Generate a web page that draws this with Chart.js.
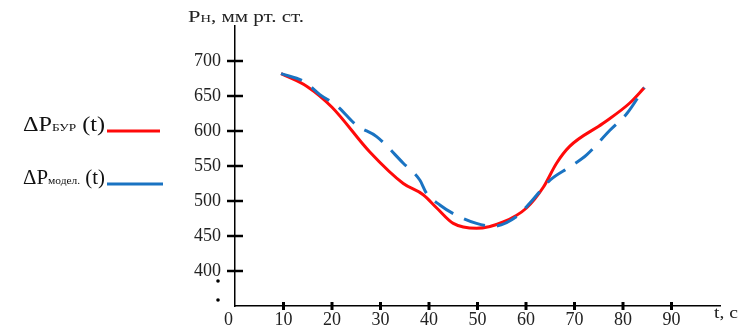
<!DOCTYPE html>
<html lang="ru">

<head>
    <meta charset="UTF-8">
    <title>Давление</title>
    <style>
        html, body { margin: 0; padding: 0; background: #fff; }
        #wrap { width: 740px; height: 326px; }
    </style>
</head>

<body>
    <div id="wrap"><canvas id="myCanvas"></canvas></div>
    <script src="https://cdn.jsdelivr.net/npm/chart.js@4.4.1/dist/chart.umd.min.js"></script>
    <script>
        // данные
        const tBur = [9.5, 15, 20, 27.8, 34.7, 38.8, 41.6, 45, 49.8, 55.3, 60.1, 63.6, 66.3, 69, 75.9, 81.4, 84.4];
        const pBur = [682, 663, 634, 570, 525, 509, 490, 468, 461, 470, 490, 520, 554, 578, 611, 640, 662];
        const tModel = [9.5, 14.4, 17.5, 21, 25.1, 29.2, 34.7, 38.1, 39.5, 42.3, 45, 49.8, 53.3, 58.1, 60.8, 65, 69.1, 72.5, 77.3, 80.8, 84.4];
        const pModel = [682, 670, 652, 636, 608, 592, 554, 530, 511, 494, 482, 468, 464, 478, 497, 530, 549, 566, 601, 625, 662];
        const xTicks = [0, 10, 20, 30, 40, 50, 60, 70, 80, 90];
        const yTicks = [400, 450, 500, 550, 600, 650, 700];

        const serif = '"Liberation Serif", "DejaVu Serif", serif';

        function pts(xs, ys) {
            return xs.map((x, i) => ({ x: x, y: ys[i] }));
        }

        // текст из кусков (обычный + индекс), растянутый до нужной ширины
        function richText(c, parts, x, y, width) {
            let w = 0;
            parts.forEach(p => { c.font = p[1] + 'px ' + serif; w += c.measureText(p[0]).width; });
            const k = width / w;
            c.save();
            c.translate(x, y);
            c.scale(k, 1);
            let cx = 0;
            parts.forEach(p => {
                c.font = p[1] + 'px ' + serif;
                c.fillText(p[0], cx, 0);
                cx += c.measureText(p[0]).width;
            });
            c.restore();
        }

        // подписи, засечки и легенда рисуются поверх
        const extras = {
            id: 'extras',
            afterDraw(chart) {
                const c = chart.ctx;
                const xs = chart.scales.x, ys = chart.scales.y;
                const x0 = xs.getPixelForValue(0), y0 = ys.bottom;
                c.save();
                c.fillStyle = '#000';
                c.strokeStyle = '#000';
                // засечки оси Y
                c.lineWidth = 2.5;
                yTicks.forEach(v => {
                    const py = ys.getPixelForValue(v);
                    c.beginPath(); c.moveTo(x0 - 8, py); c.lineTo(x0 + 8, py); c.stroke();
                });
                // засечки оси X
                c.lineWidth = 3;
                xTicks.forEach(v => {
                    if (v === 0) return;
                    const px = xs.getPixelForValue(v);
                    c.beginPath(); c.moveTo(px, y0 - 4); c.lineTo(px, y0 + 4); c.stroke();
                });
                // точки разрыва
                [281, 300].forEach(py => {
                    c.beginPath(); c.arc(x0 - 17, py, 1.8, 0, Math.PI * 2); c.fill();
                });
                c.textBaseline = 'alphabetic';
                c.fillStyle = '#222';
                // ноль в углу
                c.font = '18px ' + serif;
                c.textAlign = 'center';
                c.fillText('0', x0 - 6.5, 325);
                c.textAlign = 'left';
                // подпись оси Y
                richText(c, [['P', 17], ['Н', 11], [', мм рт. ст.', 16]], 188, 22, 116);
                // подпись оси X
                richText(c, [['t, c', 17]], 714, 318, 24);
                // легенда
                function leg(y, sub, color, len) {
                    c.fillStyle = '#111';
                    richText(c, [['ΔP', 20], [sub, 11], [' (t)', 20]], 23, y, 82);
                    c.strokeStyle = color; c.lineWidth = 3;
                    c.beginPath(); c.moveTo(107, y); c.lineTo(107 + len, y); c.stroke();
                }
                leg(131, 'БУР', '#ff0a0a', 53);
                leg(184, 'модел.', '#1a73c2', 56);
                c.restore();
            }
        };

        const ctx = document.getElementById('myCanvas').getContext('2d');
        const myChart = new Chart(ctx, {
            type: 'line',
            data: {
                datasets: [{
                    label: 'ΔP БУР (t)',
                    data: pts(tBur, pBur),
                    borderColor: '#ff0a0a',
                    borderWidth: 3,
                    pointRadius: 0,
                    cubicInterpolationMode: 'monotone',
                    order: 1
                }, {
                    label: 'ΔP модел. (t)',
                    data: pts(tModel, pModel),
                    borderColor: '#1a73c2',
                    borderWidth: 3,
                    borderDash: [22, 12],
                    pointRadius: 0,
                    cubicInterpolationMode: 'monotone',
                    order: 0
                }]
            },
            options: {
                responsive: true,
                maintainAspectRatio: false,
                animation: false,
                layout: { padding: { left: 0, top: 26, right: 20, bottom: 0 } },
                plugins: { legend: { display: false }, tooltip: { enabled: false } },
                scales: {
                    x: {
                        type: 'linear',
                        min: 0,
                        max: 100,
                        afterFit: s => { s.height = 20; s.paddingLeft = 0; s.paddingRight = 0; },
                        grid: { display: false, drawTicks: false },
                        border: { display: true, color: '#000', width: 1.5 },
                        ticks: {
                            stepSize: 10,
                            padding: 5,
                            color: '#222',
                            font: { family: serif, size: 18, lineHeight: 1 },
                            callback: v => (v !== 0 && xTicks.includes(v) ? String(v) : '')
                        }
                    },
                    y: {
                        min: 350,
                        max: 750,
                        afterFit: s => { s.width = 235; s.paddingTop = 0; s.paddingBottom = 0; },
                        grid: { display: false, drawTicks: false },
                        border: { display: true, color: '#000', width: 1.5 },
                        ticks: {
                            stepSize: 50,
                            padding: 14,
                            color: '#222',
                            font: { family: serif, size: 18 },
                            callback: v => (yTicks.includes(v) ? String(v) : '')
                        }
                    }
                }
            },
            plugins: [extras]
        });
    </script>
</body>

</html>
